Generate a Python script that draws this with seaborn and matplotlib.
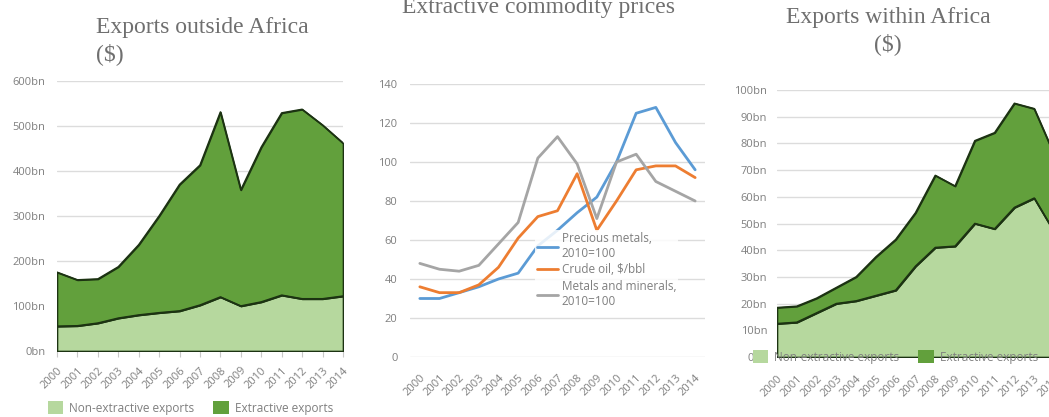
import numpy as np
import pandas as pd
import matplotlib
matplotlib.use("Agg")
import matplotlib.pyplot as plt
import seaborn as sns
from matplotlib.patches import Patch
from matplotlib.lines import Line2D

years = list(range(2000, 2015))

# Exports outside Africa ($bn)
out_non_extractive = [55, 56, 62, 73, 80, 85, 89, 102, 120, 100, 109, 124, 116, 116, 122]
out_total = [175, 158, 160, 187, 236, 300, 370, 413, 531, 358, 453, 529, 537, 502, 462]

# Extractive commodity prices
precious_metals = [30, 30, 33, 36, 40, 43, 57, 65, 74, 82, 100, 125, 128, 110, 96]
crude_oil = [36, 33, 33, 37, 46, 61, 72, 75, 94, 65, 80, 96, 98, 98, 92]
metals_minerals = [48, 45, 44, 47, 58, 69, 102, 113, 99, 71, 100, 104, 90, 85, 80]

# Exports within Africa ($bn)
in_non_extractive = [12.5, 13, 16.5, 20, 21, 23, 25, 34, 41, 41.5, 50, 48, 56, 59.5, 47]
in_total = [18.5, 19, 22, 26, 30, 37.5, 44, 54, 68, 64, 81, 84, 95, 93, 76]

left_ticks = [0, 100, 200, 300, 400, 500, 600]
right_ticks = list(range(0, 101, 10))
mid_ticks = list(range(0, 141, 20))

sns.set_theme(style="white")
plt.rcParams['font.family'] = ['Open Sans', 'DejaVu Sans']

W, H = 1049, 417
fig = plt.figure(figsize=(W / 100, H / 100), dpi=100)

def rect(x0, x1, ytop, ybot):
    return [x0 / W, 1 - ybot / H, (x1 - x0) / W, (ybot - ytop) / H]

LIGHT = "#b6d89e"
DARK = "#62a03c"
EDGE = "#1c3312"
GRID = "#dcdcdc"
TXT = "#7f7f7f"
TFONT = ['Liberation Serif', 'DejaVu Serif']
TSIZE = 17
FS = 8

def style_axes(ax, ylab_pad, xlab_pad, tick_len):
    for s in ax.spines.values():
        s.set_visible(False)
    ax.grid(True, axis="y", color=GRID, lw=1)
    ax.grid(False, axis="x")
    ax.set_axisbelow(True)
    ax.tick_params(axis="y", length=0, labelsize=FS, labelcolor=TXT, pad=ylab_pad)
    ax.tick_params(axis="x", length=tick_len, color="#c8c8c8", width=0.8,
                   labelsize=FS, labelcolor=TXT, direction="out", bottom=True,
                   pad=xlab_pad)
    ax.set_xticks(years)
    ax.set_xticklabels([str(y) for y in years], rotation=45, ha="right",
                       rotation_mode="anchor")
    ax.set_xlabel("")
    ax.set_ylabel("")

def area_panel(ax, non, tot, ticks, ylab_pad, xlab_pad, tick_len):
    df = pd.DataFrame({"year": years, "non": non, "tot": tot})
    ax.fill_between(df["year"], 0, df["non"], facecolor=LIGHT, edgecolor=EDGE, lw=1.2, zorder=2)
    ax.fill_between(df["year"], df["non"], df["tot"], facecolor=DARK, edgecolor=EDGE, lw=1.2, zorder=2)
    sns.lineplot(data=df, x="year", y="non", ax=ax, color=EDGE, lw=1.2, zorder=3)
    sns.lineplot(data=df, x="year", y="tot", ax=ax, color=EDGE, lw=1.2, zorder=3)
    style_axes(ax, ylab_pad, xlab_pad, tick_len)
    ax.set_yticks(ticks)
    ax.set_yticklabels([f"{t}bn" for t in ticks])
    ax.set_xlim(2000, 2014)

# Left panel
axL = fig.add_axes(rect(57, 343, 81, 351))
area_panel(axL, out_non_extractive, out_total, left_ticks, 8.5, 6, 4)
axL.set_ylim(0, 600)

# Middle panel
axM = fig.add_axes(rect(410, 705, 84, 357))
dfm = pd.DataFrame({
    "year": years * 3,
    "value": precious_metals + crude_oil + metals_minerals,
    "series": (["Precious metals,\n2010=100"] * 15 + ["Crude oil, $/bbl"] * 15
               + ["Metals and minerals,\n2010=100"] * 15),
})
palette = {"Precious metals,\n2010=100": "#5b9bd5",
           "Crude oil, $/bbl": "#ed7d31",
           "Metals and minerals,\n2010=100": "#a5a5a5"}
sns.lineplot(data=dfm, x="year", y="value", hue="series", palette=palette,
             ax=axM, lw=2, legend=False)
style_axes(axM, 9, 11, 0)
axM.set_xlim(1999.5, 2014.5)
axM.set_ylim(0, 140)
axM.set_yticks(mid_ticks)
mh = [Line2D([], [], color=c, lw=2) for c in palette.values()]
legM = axM.legend(mh, list(palette.keys()), loc="upper left",
                  bbox_to_anchor=(535 / W, 1 - 230 / H), bbox_transform=fig.transFigure,
                  frameon=True, framealpha=0.85, facecolor="white", edgecolor="none",
                  fontsize=8.5, handlelength=1.8, handletextpad=0.3,
                  labelspacing=0.3, borderpad=0.15, borderaxespad=0)
for t in legM.get_texts():
    t.set_color(TXT)

# Right panel (runs past the right edge of the figure)
axR = fig.add_axes(rect(777, 1054, 90, 357))
area_panel(axR, in_non_extractive, in_total, right_ticks, 7, 12, 0)
axR.set_ylim(0, 100)

# Titles
tc = "#6f6f6f"
fig.text(96 / W, 1 - 27 / H, "Exports outside Africa", fontsize=TSIZE, color=tc,
         family=TFONT, ha="left", va="center")
fig.text(96 / W, 1 - 54 / H, "($)", fontsize=TSIZE, color=tc,
         family=TFONT, ha="left", va="center")
fig.text(538 / W, 1 - 8 / H, "Extractive commodity prices", fontsize=TSIZE, color=tc,
         family=TFONT, ha="center", va="center")
fig.text(888 / W, 1 - 18 / H, "Exports within Africa", fontsize=TSIZE, color=tc,
         family=TFONT, ha="center", va="center")
fig.text(888 / W, 1 - 44 / H, "($)", fontsize=TSIZE, color=tc,
         family=TFONT, ha="center", va="center")

# Area legends
ah = [Patch(facecolor=LIGHT, edgecolor="none"), Patch(facecolor=DARK, edgecolor="none")]
alab = ["Non-extractive exports", "Extractive exports"]
legL = fig.legend(ah, alab, loc="center left", bbox_to_anchor=(48 / W, 1 - 408 / H),
                  ncol=2, frameon=False, fontsize=8.5, handlelength=1.3, handleheight=1.3,
                  handletextpad=0.5, columnspacing=1.6, borderaxespad=0, borderpad=0)
legR = fig.legend(ah, alab, loc="center left", bbox_to_anchor=(753 / W, 1 - 357 / H),
                  ncol=2, frameon=False, fontsize=8.5, handlelength=1.3, handleheight=1.3,
                  handletextpad=0.5, columnspacing=1.6, borderaxespad=0, borderpad=0)
for lg in (legL, legR):
    for t in lg.get_texts():
        t.set_color(TXT)

fig.savefig("out.png", dpi=100)
